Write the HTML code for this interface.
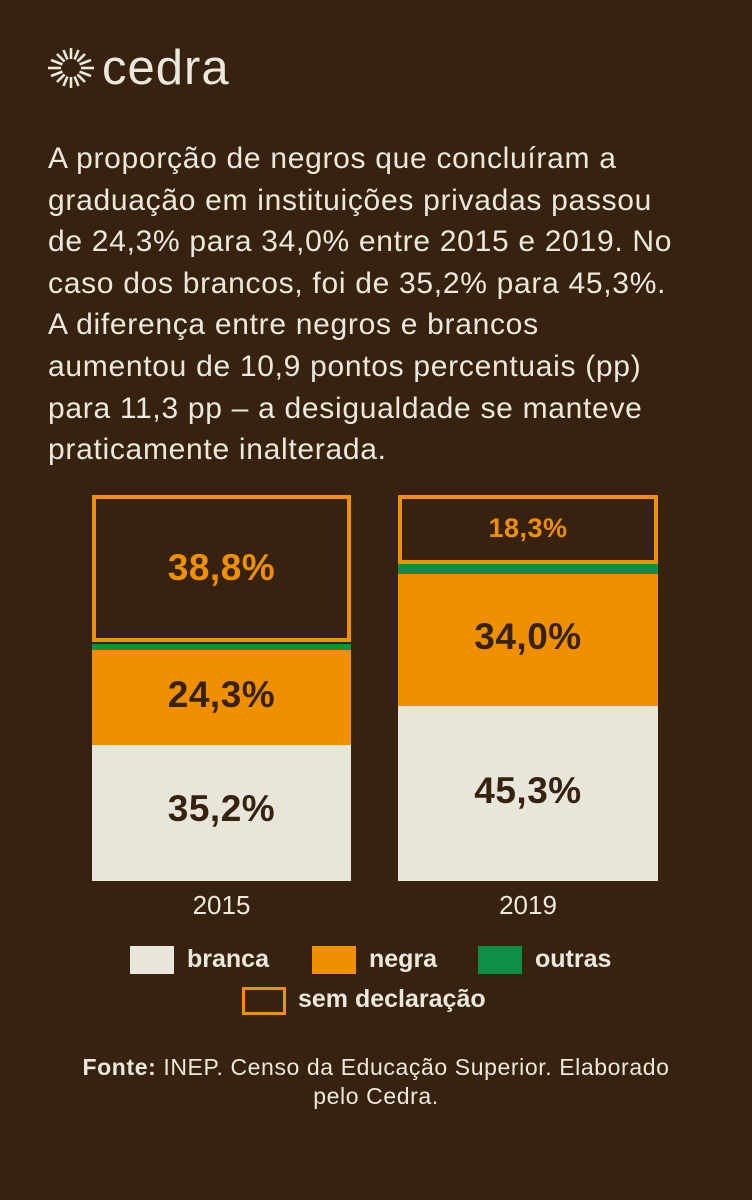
<!DOCTYPE html>
<html><head><meta charset="utf-8"><style>
*{margin:0;padding:0;box-sizing:border-box}
body{width:752px;height:1200px;background:#36220f;position:relative;overflow:hidden;font-family:"Liberation Sans",sans-serif;color:#ece8dc}
.a{position:absolute}
.lab{position:absolute;left:0;right:0;text-align:center;font-weight:bold;color:#36220f;font-size:37px;letter-spacing:0.5px}
.sq{position:absolute;width:44px;height:28px}
.lt{position:absolute;font-weight:bold;font-size:25px;line-height:28px}
</style></head><body>
<svg class="a" style="left:46px;top:46px" width="50" height="44" viewBox="-25 -22 50 44">
<g stroke="#ece8dc" stroke-width="2.6" stroke-linecap="butt">
<line x1="0" y1="-9" x2="0" y2="-20"/><line x1="0" y1="9" x2="0" y2="20"/>
<line x1="-10" y1="0" x2="-23" y2="0"/><line x1="10" y1="0" x2="23" y2="0"/>
<line x1="6.4" y1="-6.4" x2="14" y2="-14"/><line x1="-6.4" y1="-6.4" x2="-14" y2="-14"/>
<line x1="6.4" y1="6.4" x2="14" y2="14"/><line x1="-6.4" y1="6.4" x2="-14" y2="14"/>
<line x1="3.6" y1="-8.5" x2="7.5" y2="-18"/><line x1="-3.6" y1="-8.5" x2="-7.5" y2="-18"/>
<line x1="3.6" y1="8.5" x2="7.5" y2="18"/><line x1="-3.6" y1="8.5" x2="-7.5" y2="18"/>
<line x1="8.5" y1="-3.6" x2="20" y2="-8"/><line x1="-8.5" y1="-3.6" x2="-20" y2="-8"/>
<line x1="8.5" y1="3.6" x2="20" y2="8"/><line x1="-8.5" y1="3.6" x2="-20" y2="8"/>
</g></svg>
<div class="a" style="left:102px;top:38px;font-size:49px;line-height:60px;letter-spacing:1px">cedra</div>
<div class="a" style="left:48px;top:138px;width:700px;font-size:30px;line-height:41.6px;letter-spacing:0.7px;white-space:nowrap">A proporção de negros que concluíram a<br>graduação em instituições privadas passou<br>de 24,3% para 34,0% entre 2015 e 2019. No<br>caso dos brancos, foi de 35,2% para 45,3%.<br>A diferença entre negros e brancos<br>aumentou de 10,9 pontos percentuais (pp)<br>para 11,3 pp – a desigualdade se manteve<br>praticamente inalterada.</div>

<div class="a" style="left:92px;top:495px;width:259px;height:147px;border:4px solid #f09000"><div class="lab" style="top:48px;color:#f09000">38,8%</div></div>
<div class="a" style="left:92px;top:644px;width:259px;height:6px;background:#0e8f48"></div>
<div class="a" style="left:92px;top:650px;width:259px;height:95px;background:#f09000"><div class="lab" style="top:24px">24,3%</div></div>
<div class="a" style="left:92px;top:745px;width:259px;height:136px;background:#e8e6da"><div class="lab" style="top:43px">35,2%</div></div>
<div class="a" style="left:92px;top:890px;width:259px;text-align:center;font-size:26px">2015</div>

<div class="a" style="left:398px;top:495px;width:260px;height:69px;border:4px solid #f09000"><div class="lab" style="top:14px;color:#f09000;font-size:27px">18,3%</div></div>
<div class="a" style="left:398px;top:564px;width:260px;height:10px;background:#0e8f48"></div>
<div class="a" style="left:398px;top:574px;width:260px;height:132px;background:#f09000"><div class="lab" style="top:42px">34,0%</div></div>
<div class="a" style="left:398px;top:706px;width:260px;height:175px;background:#e8e6da"><div class="lab" style="top:64px">45,3%</div></div>
<div class="a" style="left:398px;top:890px;width:260px;text-align:center;font-size:26px">2019</div>

<div class="sq" style="left:130px;top:946px;background:#e8e6da"></div><div class="lt" style="left:187px;top:945px">branca</div>
<div class="sq" style="left:312px;top:946px;background:#f09000"></div><div class="lt" style="left:369px;top:945px">negra</div>
<div class="sq" style="left:478px;top:946px;background:#0e8f48"></div><div class="lt" style="left:535px;top:945px">outras</div>
<div class="sq" style="left:242px;top:987px;border:3px solid #f09000"></div><div class="lt" style="left:298px;top:985px">sem declaração</div>

<div class="a" style="left:20px;top:1053px;width:712px;text-align:center;font-size:23px;letter-spacing:0.6px;line-height:29px"><b>Fonte:</b> INEP. Censo da Educação Superior. Elaborado<br>pelo Cedra.</div>
</body></html>
